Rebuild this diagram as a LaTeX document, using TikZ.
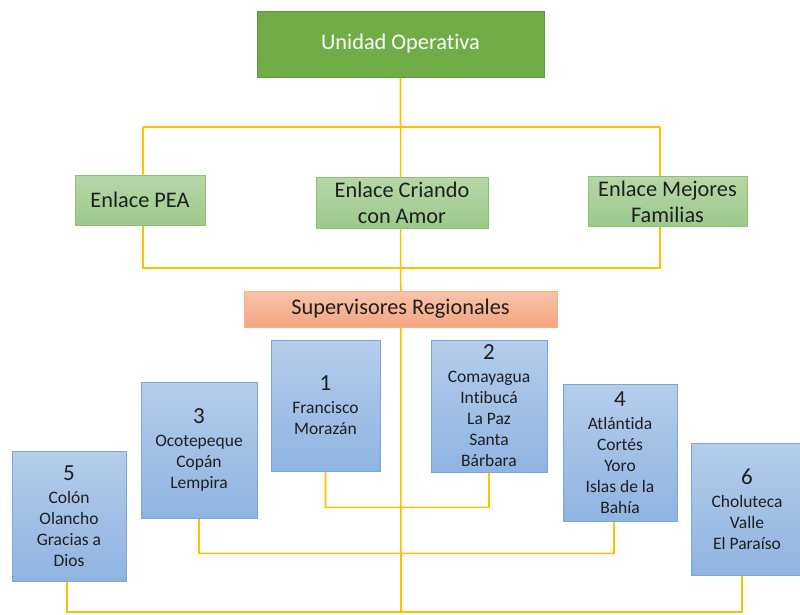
\documentclass[tikz,border=0pt]{standalone}
\usepackage{fontspec}
\setmainfont{Carlito}[Ligatures=NoCommon]
\usetikzlibrary{positioning,calc}
\pgfdeclarelayer{bg}
\pgfsetlayers{bg,main}
\definecolor{uogreen}{HTML}{70AD47}
\definecolor{uoborder}{HTML}{5E9A3B}
\definecolor{lgtop}{HTML}{B6D7A8}
\definecolor{lgbot}{HTML}{9CC98A}
\definecolor{lgborder}{HTML}{8DC26F}
\definecolor{srtop}{HTML}{F8C3AA}
\definecolor{srbot}{HTML}{F4A581}
\definecolor{srborder}{HTML}{F4B183}
\definecolor{rgtop}{HTML}{B4CDEB}
\definecolor{rgbot}{HTML}{8FB4E1}
\definecolor{rgborder}{HTML}{7CA6DA}
\definecolor{linkyellow}{HTML}{FFC000}

\begin{document}
\begin{tikzpicture}[x=1pt,y=-1pt,
	box/.style={draw,inner sep=2pt,align=center,text=black!88,line width=0.8pt},
	top node/.style={box,fill=uogreen,draw=uoborder,text=white,
		minimum width=287pt,minimum height=66pt,font=\fontsize{22.3}{26}\selectfont},
	enlace node/.style={box,top color=lgtop,bottom color=lgbot,draw=lgborder,
		minimum height=50pt,font=\fontsize{22.3}{26}\selectfont},
	super node/.style={box,top color=srtop,bottom color=srbot,draw=srborder,
		minimum width=313pt,minimum height=36pt,font=\fontsize{22.3}{26}\selectfont},
	region node/.style={box,top color=rgtop,bottom color=rgbot,draw=rgborder,
		font=\fontsize{17.5}{21}\selectfont},
	link/.style={draw=linkyellow,line width=1.6pt}]

    \useasboundingbox (0,0) rectangle (800,615);

    \node[top node] (uo) at (400.5,44) {Unidad Operativa};

    \node[enlace node,minimum width=130pt] (pea) at (140,200) {Enlace PEA};
    \node[enlace node,minimum width=172pt,minimum height=51pt] (cca) at (402,202.5) {Enlace Criando\\con Amor};
    \node[enlace node,minimum width=159pt] (emf) at (667.5,201.5) {Enlace Mejores\\Familias};

    \node[super node] (sr) at (400.5,309) {Supervisores Regionales};

    \node[region node,minimum width=109pt,minimum height=131pt] (r1) at (325.5,405.5)
	{{\fontsize{23}{26}\selectfont 1}\\[2pt]Francisco\\Morazán};
    \node[region node,minimum width=116pt,minimum height=132pt] (r2) at (489,406)
	{{\fontsize{23}{26}\selectfont 2}\\[2pt]Comayagua\\Intibucá\\La Paz\\Santa\\Bárbara};
    \node[region node,minimum width=116pt,minimum height=136pt] (r3) at (199,450)
	{{\fontsize{23}{26}\selectfont 3}\\[2pt]Ocotepeque\\Copán\\Lempira};
    \node[region node,minimum width=114pt,minimum height=137pt] (r4) at (620,452.5)
	{{\fontsize{23}{26}\selectfont 4}\\[2pt]Atlántida\\Cortés\\Yoro\\Islas de la\\Bahía};
    \node[region node,minimum width=114pt,minimum height=130pt] (r5) at (69,516)
	{{\fontsize{23}{26}\selectfont 5}\\[2pt]Colón\\Olancho\\Gracias a\\Dios};
    \node[region node,minimum width=112pt,minimum height=132pt] (r6) at (747,509)
	{{\fontsize{23}{26}\selectfont 6}\\[2pt]Choluteca\\Valle\\El Paraíso};

    % joints of the yellow tree
    \coordinate (trunk end) at (401,612);
    \coordinate (tl) at (143,127);
    \coordinate (tr) at (660,127);
    \coordinate (bl) at (143,268);
    \coordinate (br) at (660,268);

    \begin{pgfonlayer}{bg}
    \path[link]
	(uo.south) -- (trunk end)
	(tl) -- (tr)
	(tl) -- (tl |- pea.north)
	(tr) -- (tr |- emf.north)
	(bl |- pea.south) -- (bl) -- (br) -- (br |- emf.south)
	(r1.south) -- ++(0,36) -| (r2.south)
	(r3.south) -- ++(0,35) -| ([xshift=-6pt]r4.south)
	([xshift=-2pt]r5.south) |- (trunk end) -| ([xshift=-5pt]r6.south)
	;
    \end{pgfonlayer}

\end{tikzpicture}
\end{document}
